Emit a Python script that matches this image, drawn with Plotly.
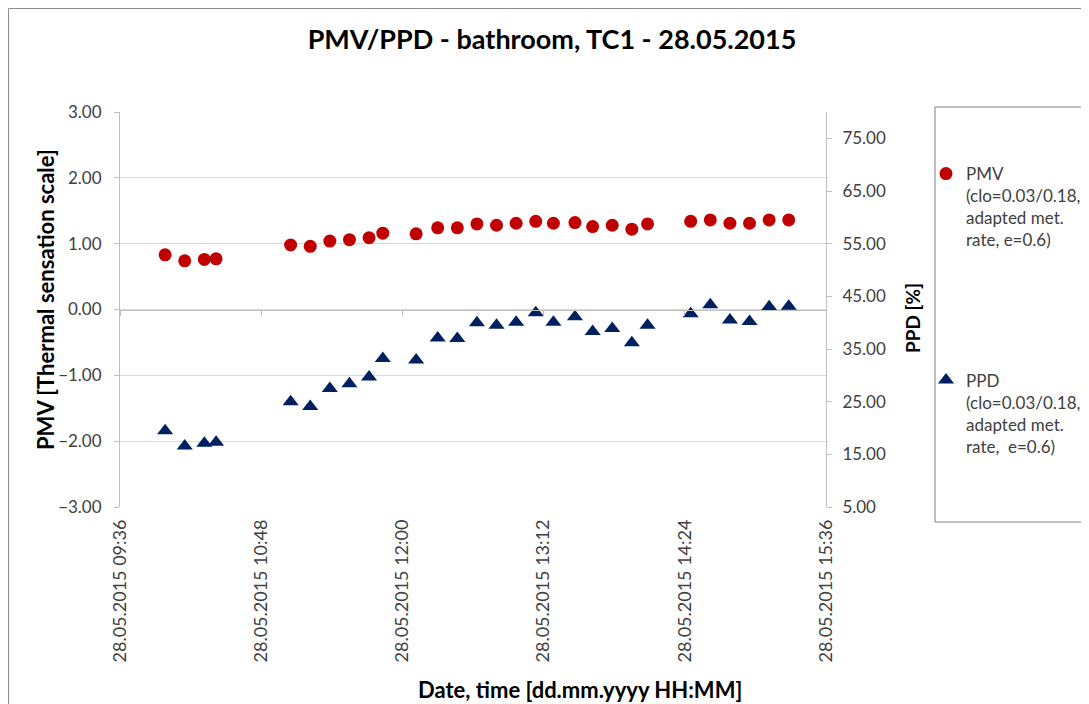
import plotly.graph_objects as go

# ---- data ----
times = ["2015-05-28 09:59", "2015-05-28 10:09", "2015-05-28 10:19", "2015-05-28 10:25",
         "2015-05-28 11:03", "2015-05-28 11:13", "2015-05-28 11:23", "2015-05-28 11:33",
         "2015-05-28 11:43", "2015-05-28 11:50", "2015-05-28 12:07", "2015-05-28 12:18",
         "2015-05-28 12:28", "2015-05-28 12:38", "2015-05-28 12:48", "2015-05-28 12:58",
         "2015-05-28 13:08", "2015-05-28 13:17", "2015-05-28 13:28", "2015-05-28 13:37",
         "2015-05-28 13:47", "2015-05-28 13:57", "2015-05-28 14:05", "2015-05-28 14:27",
         "2015-05-28 14:37", "2015-05-28 14:47", "2015-05-28 14:57", "2015-05-28 15:07",
         "2015-05-28 15:17"]
pmv = [0.83, 0.74, 0.76, 0.77, 0.98, 0.96, 1.04, 1.06, 1.09, 1.16, 1.15, 1.24, 1.24,
       1.30, 1.28, 1.31, 1.34, 1.31, 1.32, 1.26, 1.28, 1.22, 1.30, 1.34, 1.36, 1.31,
       1.31, 1.36, 1.36]
ppd = [19.5, 16.6, 17.1, 17.3, 25.0, 24.1, 27.5, 28.4, 29.7, 33.2, 32.9, 37.1, 37.0,
       40.0, 39.5, 40.1, 41.9, 40.1, 41.1, 38.3, 38.9, 36.2, 39.5, 41.7, 43.4, 40.5,
       40.2, 43.0, 43.1]
x_tick_vals = ["2015-05-28 09:36", "2015-05-28 10:48", "2015-05-28 12:00",
               "2015-05-28 13:12", "2015-05-28 14:24", "2015-05-28 15:36"]
x_tick_text = ["28.05.2015 09:36", "28.05.2015 10:48", "28.05.2015 12:00",
               "28.05.2015 13:12", "28.05.2015 14:24", "28.05.2015 15:36"]
x_range = ["2015-05-28 09:36", "2015-05-28 15:36"]
pmv_range = [-3, 3]
ppd_range = [5, 80]

FONT = "Lato"
TXT = "#404040"
AX = "#BFBFBF"
GRID = "#D9D9D9"

# the page body adds an 8px offset, so the figure is 8px smaller and all
# reference pixel positions are shifted by -8
OFF = 8
W, H = 1089 - OFF, 704 - OFF
L, R, T, B = 120 - OFF, 1089 - 826, 112 - OFF, 704 - 507
PW, PH = W - L - R, H - T - B


def px(xp):
    return (xp - OFF - L) / PW


def py(yp):
    return 1 - (yp - OFF - T) / PH


def cx(xp):
    return (xp - OFF) / W


def cy(yp):
    return 1 - (yp - OFF) / H


fig = go.Figure()
fig.add_trace(go.Scatter(
    x=times, y=pmv, mode="markers", xaxis="x", yaxis="y",
    name="PMV<br>(clo=0.03/0.18,<br>adapted met.<br>rate, e=0.6)",
    legendgroup="a",
    marker=dict(symbol="circle", size=13, color="#C00000"),
))
fig.add_trace(go.Scatter(
    x=times, y=ppd, mode="markers", xaxis="x2", yaxis="y2",
    name="PPD<br>(clo=0.03/0.18,<br>adapted met.<br>rate,  e=0.6)",
    legendgroup="b",
    marker=dict(symbol="triangle-up", size=14, color="#002060"),
))

fig.update_layout(
    width=W, height=H,
    margin=dict(l=L, r=R, t=T, b=B, pad=0, autoexpand=False),
    paper_bgcolor="white", plot_bgcolor="white",
    font=dict(family=FONT, size=17, color=TXT),
    title=dict(text="PMV/PPD - bathroom, TC1 - 28.05.2015",
               x=cx(552), xanchor="center", xref="container",
               y=cy(40), yanchor="middle",
               font=dict(family=FONT, size=27, color="#000000", weight="bold")),
    xaxis=dict(
        type="date", range=x_range, tickvals=x_tick_vals, ticktext=x_tick_text,
        tickangle=-90, showgrid=False, zeroline=False, showline=False,
        ticks="", ticklabelstandoff=8, automargin=False,
        tickfont=dict(family=FONT, size=18, color=TXT),
    ),
    xaxis2=dict(
        type="date", range=x_range, tickvals=x_tick_vals, overlaying="x",
        anchor="free", position=0.5, side="bottom", automargin=False,
        showgrid=False, zeroline=False, showline=True, linecolor=AX, linewidth=1,
        ticks="outside", ticklen=5, tickcolor=AX, showticklabels=False,
    ),
    yaxis=dict(
        range=pmv_range, tick0=-3, dtick=1, tickformat=".2f", automargin=False,
        showgrid=True, gridcolor=GRID, gridwidth=1, zeroline=False,
        showline=True, linecolor=AX, ticks="outside", ticklen=5, tickcolor=AX,
        ticklabelstandoff=9,
        tickfont=dict(family=FONT, size=17, color=TXT),
    ),
    yaxis2=dict(
        range=ppd_range, tick0=5, dtick=10, tickformat=".2f", automargin=False,
        overlaying="y", side="right", anchor="x2",
        showgrid=False, zeroline=False,
        showline=True, linecolor=AX, ticks="outside", ticklen=5, tickcolor=AX,
        ticklabelstandoff=7,
        tickfont=dict(family=FONT, size=17, color=TXT),
    ),
    legend=dict(
        xref="container", yref="container",
        x=cx(926), xanchor="left", y=cy(156), yanchor="top",
        bgcolor="rgba(0,0,0,0)", borderwidth=0,
        traceorder="grouped", tracegroupgap=115, valign="top",
        font=dict(family=FONT, size=17, color=TXT),
    ),
    showlegend=True,
)

# axis titles
TITLE_FONT = dict(family=FONT, size=22, color="#000000", weight="bold")
fig.add_annotation(
    text="Date, time [dd.mm.yyyy HH:MM]", xref="paper", yref="paper",
    x=px(580), y=py(689), xanchor="center", yanchor="middle", showarrow=False,
    font=TITLE_FONT,
)
fig.add_annotation(
    text="PMV [Thermal sensation scale]", xref="paper", yref="paper",
    x=px(45), y=py(300), xanchor="center", yanchor="middle", showarrow=False,
    textangle=-90, font=TITLE_FONT,
)
fig.add_annotation(
    text="PPD [%]", xref="paper", yref="paper",
    x=px(912), y=py(318), xanchor="center", yanchor="middle", showarrow=False,
    textangle=-90, font=dict(family=FONT, size=19, color="#000000", weight="bold"),
)

# legend box and outer chart border
fig.add_shape(type="rect", xref="paper", yref="paper",
              x0=px(935), x1=px(1110), y0=py(522), y1=py(107),
              line=dict(color="#7F7F7F", width=1), fillcolor="rgba(0,0,0,0)", layer="below")
fig.add_shape(type="rect", xref="paper", yref="paper",
              x0=px(8.5), x1=px(1110), y0=py(730), y1=py(8.5),
              line=dict(color="#8C8C8C", width=1), fillcolor="rgba(0,0,0,0)", layer="below")

fig.write_html("out.html")
